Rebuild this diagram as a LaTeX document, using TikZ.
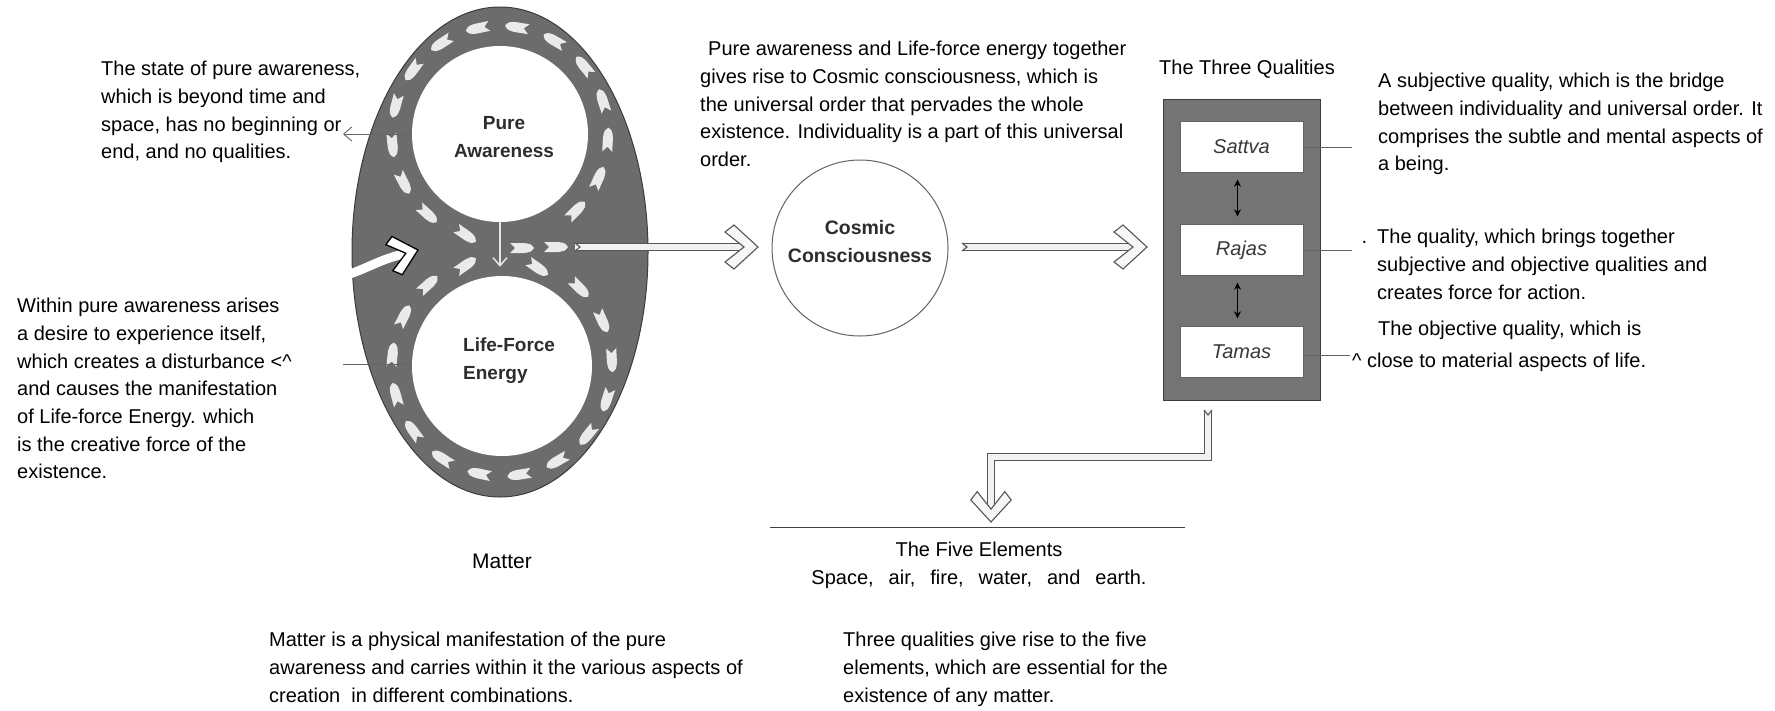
\documentclass[tikz,border=0pt]{standalone}
\usepackage{fontspec}
\setmainfont{Liberation Sans}
\usetikzlibrary{arrows.meta,shapes.geometric}
\definecolor{ellgray}{RGB}{108,108,108}
\definecolor{boxgray}{RGB}{116,116,116}
\definecolor{edgegray}{RGB}{60,60,60}
\definecolor{linegray}{RGB}{100,100,100}
\definecolor{shaftgray}{RGB}{85,85,85}
\definecolor{dartwhite}{RGB}{234,234,234}
\definecolor{labelgray}{RGB}{45,45,45}
\begin{document}
\begin{tikzpicture}[x=1pt,y=-1pt,
  txt/.style={font=\fontsize{20}{27.7}\selectfont, align=left, inner sep=0pt, anchor=north west},
  ctxt/.style={font=\fontsize{20}{27.7}\selectfont, align=center, inner sep=0pt},
  clabel/.style={font=\fontsize{19}{28}\selectfont\bfseries, text=labelgray, inner sep=0pt},
  whitecircle/.style={circle, fill=white, inner sep=0pt},
  qbox/.style={draw=linegray, fill=white, minimum width=123pt, minimum height=51pt, inner sep=0pt, font=\fontsize{20}{24}\selectfont\itshape, text=black!78},
  conn/.style={draw=linegray, line width=0.9pt},
  hollow/.style={draw=shaftgray, line width=1.1pt, double=black!5, double distance=6.6pt},
  chev/.style={draw=shaftgray, fill=black!3, line width=1.1pt},
  dbl/.style={line width=1pt, {Stealth[length=7pt,width=7pt]}-{Stealth[length=7pt,width=7pt]}, shorten <=7pt, shorten >=8pt},
  dartpic/.pic={\fill[dartwhite] (12,0) .. controls (9,-4) .. (2,-5) -- (-12,-5) -- (-7,0) -- (-12,5) -- (2,5) .. controls (9,4) .. cycle;},
  chevpic/.pic={\path[pic actions] (0,0) -- (-24,-22) -- (-33,-15) -- (-14,0) -- (-33,15) -- (-24,22) -- cycle;},
]
\useasboundingbox (0,0) rectangle (1775,710);

% ---------- matter ellipse ----------
\node[ellipse, minimum width=296pt, minimum height=490pt, fill=ellgray, draw=edgegray, line width=1pt] (matterellipse) at (500,252) {};
\node[whitecircle, minimum size=176pt] (pa) at (500,134) {};
\node[whitecircle, minimum size=180pt] (lf) at (502,366) {};
\node[clabel, align=center] (palbl) at (504,137) {Pure\\Awareness};
\node[clabel, align=left, anchor=west] (lflbl) at (463,361) {Life-Force\\Energy};

% darts around the figure-eight
\foreach \a in {-45,-24,...,228}
  \pic[rotate=\a+90] at ({500+108*cos(\a)},{134-108*sin(\a)}) {dartpic};
\foreach \a in {45,24,...,-228}
  \pic[rotate=\a-90] at ({502+110*cos(\a)},{366-110*sin(\a)}) {dartpic};
\pic[rotate=-35] at (466,235) {dartpic};
\pic[rotate=35] at (466,265) {dartpic};
\pic[rotate=-35] at (538,268) {dartpic};
\pic at (522,248) {dartpic};
\pic at (556,247) {dartpic};

% small arrow from Pure Awareness down to Life-Force Energy
\draw[draw=black!10, line width=1.5pt, -{Straight Barb[length=8pt,width=14pt]}, shorten >=9pt] (pa.south) -- (pa.south |- lf.north);

% entering white arrow
\coordinate (inTail) at (343,276);
\coordinate (inTip) at (418,250);
\draw[white, line width=9pt, line cap=round] (inTail) .. controls (365,270) and (380,259) .. (404,254);
\pic[scale=0.9, rotate=15, draw=black, fill=white, line width=1.3pt] at (inTip) {chevpic};

% connectors to the left texts
\coordinate (paEnd) at (343,134);
\coordinate (lfEnd) at (343,364);
\draw[conn, -{Straight Barb[length=8pt,width=14pt]}] (pa.west) -- (paEnd);
\draw[conn] (lf.west |- lfEnd) -- (lfEnd);

% ---------- cosmic consciousness ----------
\node[whitecircle, draw=linegray, line width=1pt, minimum size=176pt] (cc) at (860,248) {};
\node[clabel, align=center, font=\fontsize{19.5}{28}\selectfont\bfseries] (cclbl) at (860,242) {Cosmic\\Consciousness};

% arrow ellipse -> cosmic
\coordinate (a1tail) at (575,247);
\coordinate (a1tip) at (758,247);
\draw[hollow] (a1tail) -- ([xshift=-16pt]a1tip);
\draw[draw=shaftgray, line width=1.1pt] (575,243) -- (580,247) -- (575,251);
\pic[chev] at (a1tip) {chevpic};

% arrow cosmic -> three qualities
\coordinate (a2tail) at (962,247);
\coordinate (a2tip) at (1147,247);
\draw[hollow] (a2tail) -- ([xshift=-16pt]a2tip);
\draw[draw=shaftgray, line width=1.1pt] (962,243) -- (967,247) -- (962,251);
\pic[chev] at (a2tip) {chevpic};

% ---------- three qualities ----------
\node[ctxt] (tqtitle) at (1247,69) {The Three Qualities};
\node[draw=edgegray, fill=boxgray, line width=1pt, minimum width=157pt, minimum height=301pt, inner sep=0pt] (tq) at (1241.5,249.5) {};
\node[qbox] (sattva) at (1241.5,147) {Sattva};
\node[qbox] (rajas) at (1241.5,250) {Rajas};
\node[qbox] (tamas) at (1241.5,352) {Tamas};
\draw[dbl] ([xshift=-4pt]sattva.south) -- ([xshift=-4pt]rajas.north);
\draw[dbl] ([xshift=-4pt]rajas.south) -- ([xshift=-4pt]tamas.north);
\coordinate (sEnd) at (1352,147);
\coordinate (rEnd) at (1352,250);
\coordinate (tEnd) at (1350,355);
\draw[conn] (sattva.east) -- (sEnd);
\draw[conn] (rajas.east) -- (rEnd);
\draw[conn] (tamas.east |- tEnd) -- (tEnd);

% elbow arrow down to five elements
\coordinate (a3tail) at (1208,410);
\coordinate (a3tip) at (991,522);
\draw[hollow] (a3tail) -- (1208,457) -- (991,457) -- ([yshift=16pt]a3tip);
\draw[draw=shaftgray, line width=1.1pt] (1204,410) -- (1208,415) -- (1212,410);
\pic[chev, rotate=-90, scale=0.92] at (a3tip) {chevpic};

% five elements line
\coordinate (fiveL) at (770,527);
\coordinate (fiveR) at (1185,527);
\draw[draw=black!75, line width=1pt] (fiveL) -- (fiveR);

% ---------- texts ----------
\node[txt] (t1) at (101,61) {The state of pure awareness,\\which is beyond time and\\space, has no beginning or\\end, and no qualities.};
\node[txt] (t2) at (17,298) {Within pure awareness arises\\a desire to experience itself,\\which creates a disturbance <\textasciicircum\\and causes the manifestation\\of Life-force Energy. which\\is the creative force of the\\existence.};
\node[txt] (t3) at (700,41) {\hspace*{8pt}Pure awareness and Life-force energy together\\gives rise to Cosmic consciousness, which is\\the universal order that pervades the whole\\existence. Individuality is a part of this universal\\order.};
\node[txt] (t4) at (1378,73) {A subjective quality, which is the bridge\\between individuality and universal order. It\\comprises the subtle and mental aspects of\\a being.};
\node[txt] (t5) at (1377,229) {\llap{.\hspace{10pt}}The quality, which brings together\\subjective and objective qualities and\\creates force for action.};
\node[txt] (t6) at (1352,321) {\hspace*{26pt}The objective quality, which is\\[4pt]\textasciicircum\ close to material aspects of life.};
\node[font=\fontsize{21}{24}\selectfont, inner sep=0pt] (matterlbl) at (502,561) {Matter};
\node[ctxt] (five) at (979,565) {The Five Elements\\Space,\hspace{15pt}air,\hspace{15pt}fire,\hspace{15pt}water,\hspace{15pt}and\hspace{15pt}earth.};
\node[txt] (t7) at (269,632) {Matter is a physical manifestation of the pure\\awareness and carries within it the various aspects of\\creation\ \ in different combinations.};
\node[txt] (t8) at (843,632) {Three qualities give rise to the five\\elements, which are essential for the\\existence of any matter.};
\end{tikzpicture}
\end{document}
